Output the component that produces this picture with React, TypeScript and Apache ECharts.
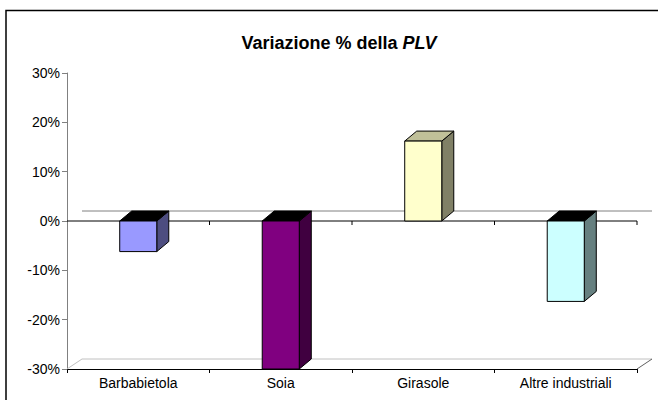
import React, { useEffect, useRef } from "react";
import * as echarts from "echarts";

const categories = ["Barbabietola", "Soia", "Girasole", "Altre industriali"];
const values = [-6.2, -30, 16.2, -16.3];
const yTicks = [-30, -20, -10, 0, 10, 20, 30];

const frontColors = ["#9999FF", "#800080", "#FFFFCC", "#CCFFFF"];
const sideColors = ["#4D4D80", "#400040", "#808066", "#668080"];
const topColorsPos = ["#BFBFFF", "#C080C0", "#C0C099", "#E0FFFF"];

const Y_MIN = yTicks[0];
const Y_MAX = yTicks[yTicks.length - 1];
const FONT = "Liberation Sans, Arial, sans-serif";

export default function App() {
  const ref = useRef<HTMLDivElement>(null);
  useEffect(() => {
    if (!ref.current) return;
    const chart = echarts.init(ref.current, null, { renderer: "svg" });
    const BDX = 12, BDY = -10; // bar depth
    const WDX = 15, WDY = -10; // wall depth
    chart.setOption({
      animation: false,
      backgroundColor: "#ffffff",
      textStyle: { fontFamily: FONT },
      graphic: [
        {
          type: "rect",
          shape: { x: 6, y: 10.5, width: 700, height: 500 },
          style: { fill: "none", stroke: "#000", lineWidth: 1.5 },
          silent: true,
          z: 0,
        },
        {
          type: "text",
          x: 339,
          y: 43,
          style: {
            text: "{b|Variazione % della }{bi|PLV}",
            align: "center",
            verticalAlign: "middle",
            rich: {
              b: { fontSize: 18, fontWeight: "bold", fontFamily: FONT, fill: "#000" },
              bi: { fontSize: 18, fontWeight: "bold", fontStyle: "italic", fontFamily: FONT, fill: "#000" },
            },
          },
        },
      ],
      grid: { left: 67, right: 21, top: 73, bottom: 31, containLabel: false },
      xAxis: {
        type: "category",
        data: categories,
        boundaryGap: true,
        axisLine: { onZero: false, lineStyle: { color: "#000", width: 1 } },
        axisTick: { show: true, length: 4, alignWithLabel: false, lineStyle: { color: "#000" } },
        axisLabel: { color: "#000", fontSize: 14, margin: 7, fontFamily: FONT },
        splitLine: { show: false },
      },
      yAxis: {
        type: "value",
        min: Y_MIN,
        max: Y_MAX,
        interval: 10,
        axisLine: { show: true, lineStyle: { color: "#808080", width: 1 } },
        axisTick: { show: true, length: 5, lineStyle: { color: "#808080" } },
        axisLabel: {
          color: "#000",
          fontSize: 14,
          margin: 7,
          fontFamily: FONT,
          formatter: (v: number) => `${v}%`,
        },
        splitLine: { show: false },
      },
      series: [
        {
          type: "custom",
          silent: true,
          z: 1,
          data: [[0, 0]],
          renderItem: (params: any, api: any) => {
            const cs = params.coordSys;
            const x = cs.x, w = cs.width;
            const y0 = api.coord([0, 0])[1];
            const yb = api.coord([0, Y_MIN])[1];
            const cw = api.size([1, 0])[0];
            const children: any[] = [];
            const line = (x1: number, y1: number, x2: number, y2: number, color: string) =>
              children.push({
                type: "line",
                shape: { x1, y1, x2, y2 },
                style: { stroke: color, lineWidth: 1 },
              });
            line(x + WDX, yb + WDY, x + w + WDX, yb + WDY, "#C0C0C0");
            line(x, yb, x + WDX, yb + WDY, "#C0C0C0");
            line(x + w, yb, x + w + WDX, yb + WDY, "#606060");
            line(x + WDX, y0 + WDY, x + w + WDX, y0 + WDY, "#808080");
            line(x, y0, x + w, y0, "#000");
            for (let k = 1; k <= categories.length; k++) {
              line(x + k * cw, y0, x + k * cw, y0 + 4, "#000");
            }
            return { type: "group", children };
          },
        },
        {
          type: "custom",
          z: 2,
          data: values.map((v, i) => [i, v]),
          renderItem: (params: any, api: any) => {
            const i = api.value(0);
            const v = Math.max(Y_MIN, Math.min(Y_MAX, api.value(1)));
            const base = api.coord([i, 0]);
            const end = api.coord([i, v]);
            const cw = api.size([1, 0])[0];
            const bw = cw * 0.26;
            const x0 = base[0] - bw / 2;
            const x1 = base[0] + bw / 2;
            const yTop = Math.min(base[1], end[1]);
            const yBot = Math.max(base[1], end[1]);
            const topColor = v >= 0 ? topColorsPos[i] : "#000000";
            const edge = { stroke: "#000", lineWidth: 1 };
            return {
              type: "group",
              children: [
                {
                  type: "polygon",
                  shape: { points: [[x1, yTop], [x1 + BDX, yTop + BDY], [x1 + BDX, yBot + BDY], [x1, yBot]] },
                  style: { fill: sideColors[i], ...edge },
                },
                {
                  type: "polygon",
                  shape: { points: [[x0, yTop], [x0 + BDX, yTop + BDY], [x1 + BDX, yTop + BDY], [x1, yTop]] },
                  style: { fill: topColor, ...edge },
                },
                {
                  type: "rect",
                  shape: { x: x0, y: yTop, width: bw, height: yBot - yTop },
                  style: { fill: frontColors[i], ...edge },
                },
              ],
            };
          },
        },
      ],
    });
    return () => chart.dispose();
  }, []);
  return (
    <div
      ref={ref}
      style={{ position: "fixed", left: 0, top: 0, width: 658, height: 400, background: "#fff" }}
    />
  );
}
